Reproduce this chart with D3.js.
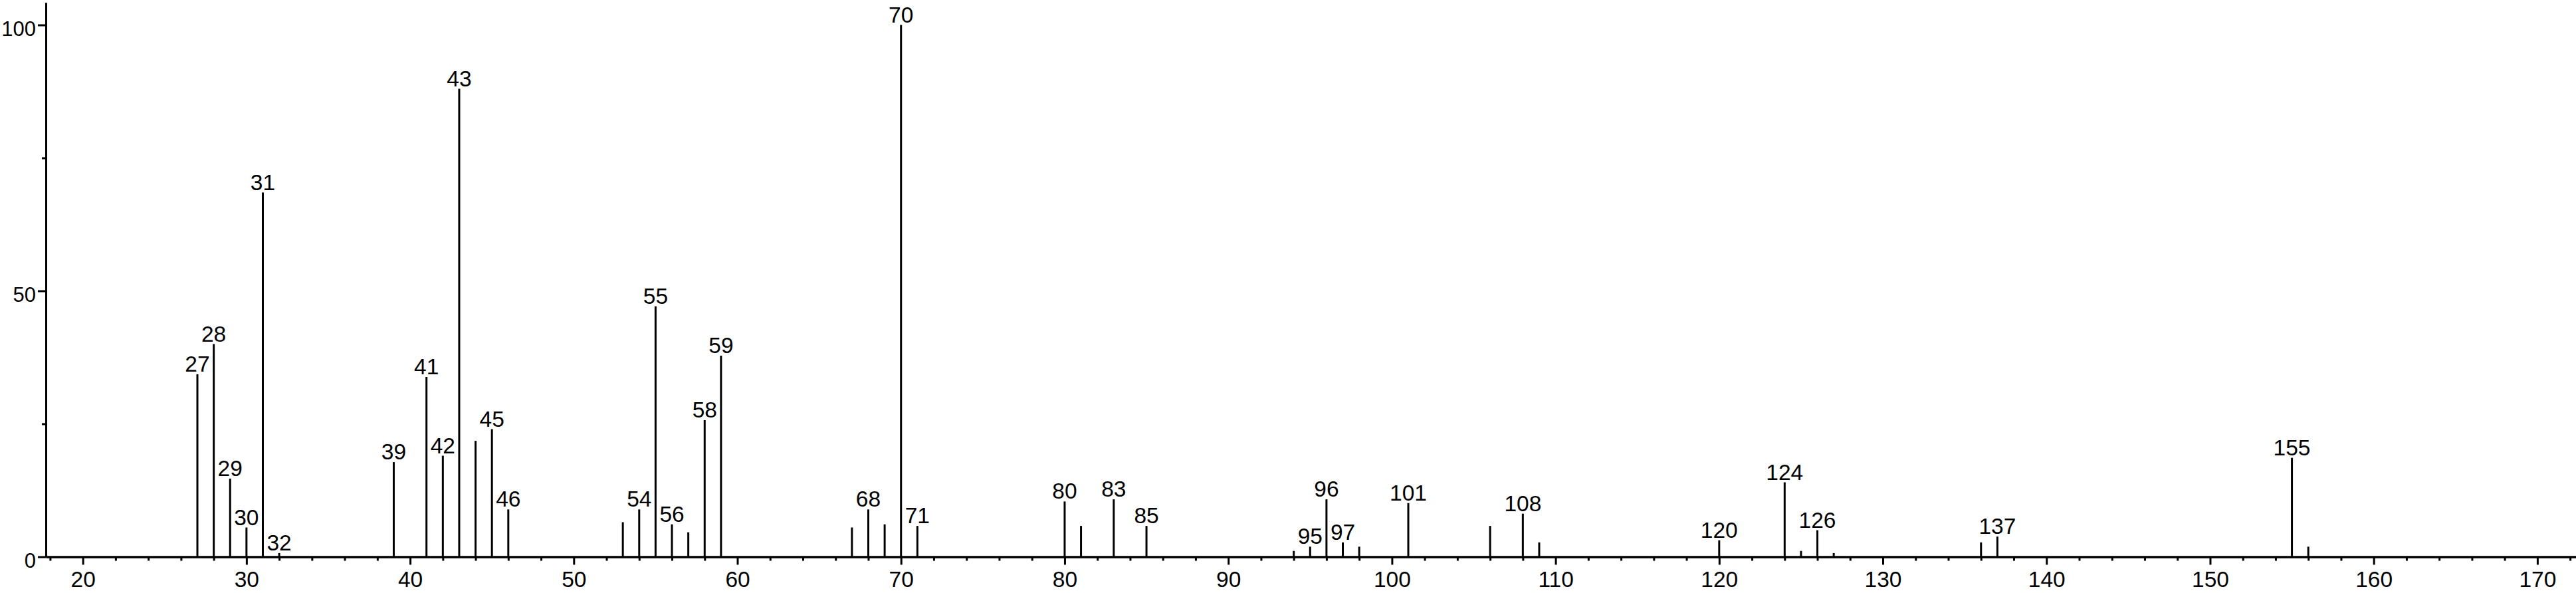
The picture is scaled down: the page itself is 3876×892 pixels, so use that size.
<!DOCTYPE html>
<html>
<head>
<meta charset="utf-8">
<script src="https://cdn.jsdelivr.net/npm/d3@7"></script>
<style>
  html, body { margin: 0; padding: 0; background: #fff; }
  svg { display: block; }
  text { font-family: "Liberation Sans", Arial, "DejaVu Sans", sans-serif; fill: #000; }
</style>
</head>
<body>
<svg id="chart" width="3876" height="892"></svg>
<script>
// m/z values of the peaks
const mzValues = [27, 28, 29, 30, 31, 32, 39, 41, 42, 43, 44, 45, 46, 53, 54, 55, 56, 57, 58, 59,
  67, 68, 69, 70, 71, 80, 81, 83, 85, 94, 95, 96, 97, 98, 101, 106, 108, 109, 120, 124, 125,
  126, 127, 136, 137, 155, 156];
// relative intensities (%)
const intensities = [34.3, 40.0, 14.7, 5.5, 68.5, 0.7, 17.8, 33.8, 19.0, 88.0, 21.8, 24.0, 8.9, 6.5, 8.9, 47.1, 6.1, 4.6, 25.7, 37.8,
  5.5, 8.9, 6.1, 100, 5.8, 10.4, 5.8, 10.8, 5.8, 1.1, 1.9, 10.8, 2.7, 1.9, 10.1, 5.8, 8.1, 2.7, 3.1, 14.0, 1.1,
  5.0, 0.7, 2.7, 3.8, 18.6, 1.9];
// peaks that carry a label
const labeledPeaks = [27, 28, 29, 30, 31, 32, 39, 41, 42, 43, 45, 46, 54, 55, 56, 58, 59, 68, 70, 71,
  80, 83, 85, 95, 96, 97, 101, 108, 120, 124, 126, 137, 155];
// axis ticks
const xMajorTicks = [20, 30, 40, 50, 60, 70, 80, 90, 100, 110, 120, 130, 140, 150, 160, 170];
const xMinorTicks = d3.range(18, 173, 2).filter(v => v % 10 !== 0);
const yMajorTicks = [0, 50, 100];
const yMinorTicks = [25, 75];

const peaks = mzValues.map((m, i) => ({ mz: m, value: intensities[i] }));

const svg = d3.select("#chart");
const x = d3.scaleLinear().domain([17.74, 172.36]).range([69, 3876]);
const y = d3.scaleLinear().domain([0, 104.19]).range([837.5, 4]);

const FS = 33.5;

// peaks
svg.append("g")
  .selectAll("line")
  .data(peaks)
  .join("line")
  .attr("x1", d => x(d.mz)).attr("x2", d => x(d.mz))
  .attr("y1", y(0)).attr("y2", d => y(d.value))
  .attr("stroke", "#000").attr("stroke-width", 3);

// peak labels
svg.append("g")
  .selectAll("text")
  .data(peaks.filter(d => labeledPeaks.includes(d.mz)))
  .join("text")
  .attr("x", d => x(d.mz))
  .attr("y", d => y(d.value) - 4)
  .attr("text-anchor", "middle")
  .attr("font-size", FS)
  .text(d => d.mz);

function styleAxis(g, fs) {
  g.select(".domain").attr("stroke", "#000").attr("stroke-width", 3);
  g.selectAll(".tick line").attr("stroke", "#000").attr("stroke-width", 3);
  g.selectAll(".tick text").attr("font-size", fs).attr("fill", "#000")
    .attr("font-family", '"Liberation Sans", Arial, sans-serif');
}

// x axis minor ticks
const gxMinor = svg.append("g").attr("transform", `translate(0,${y(0)})`)
  .call(d3.axisBottom(x).tickValues(xMinorTicks).tickSize(6).tickSizeOuter(0).tickFormat(""));
styleAxis(gxMinor, FS);
// x axis major ticks
const gx = svg.append("g").attr("transform", `translate(0,${y(0)})`)
  .call(d3.axisBottom(x).tickValues(xMajorTicks).tickSize(12).tickSizeOuter(0).tickPadding(10).tickFormat(d3.format("d")));
styleAxis(gx, FS);

// y axis minor ticks
const gyMinor = svg.append("g").attr("transform", `translate(${x.range()[0]},0)`)
  .call(d3.axisLeft(y).tickValues(yMinorTicks).tickSize(6).tickSizeOuter(0).tickFormat(""));
styleAxis(gyMinor, FS);
// y axis major ticks
const gy = svg.append("g").attr("transform", `translate(${x.range()[0]},0)`)
  .call(d3.axisLeft(y).tickValues(yMajorTicks).tickSize(12).tickSizeOuter(0).tickPadding(3).tickFormat(d3.format("d")));
styleAxis(gy, 31);
gy.selectAll(".tick text").attr("dy", "0.5em");
</script>
</body>
</html>
